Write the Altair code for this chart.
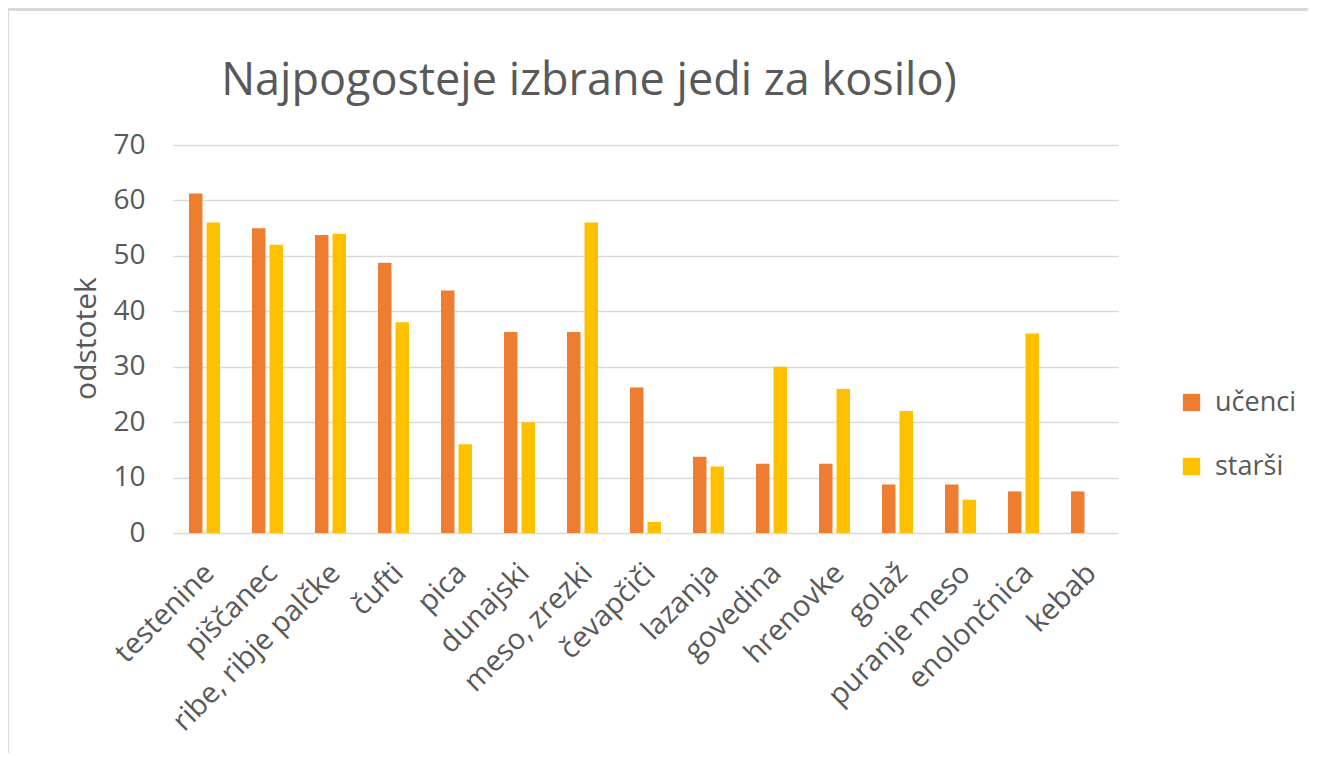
import altair as alt
import pandas as pd

title_text = "Najpogosteje izbrane jedi  za kosilo)"
categories = ["testenine", "piščanec", "ribe, ribje palčke", "čufti", "pica", "dunajski",
              "meso, zrezki", "čevapčiči", "lazanja", "govedina", "hrenovke", "golaž",
              "puranje meso", "enolončnica", "kebab"]
ucenci = [61.25, 55, 53.75, 48.75, 43.75, 36.25, 36.25, 26.25, 13.75, 12.5, 12.5, 8.75, 8.75, 7.5, 7.5]
starsi = [56, 52, 54, 38, 16, 20, 56, 2, 12, 30, 26, 22, 6, 36, 0]
series = ["učenci", "starši"]
colors = ["#ED7D31", "#FFC000"]
y_ticks = [0, 10, 20, 30, 40, 50, 60, 70]

rows = []
for c, u, s in zip(categories, ucenci, starsi):
    rows.append({"jed": c, "skupina": series[0], "odstotek": u})
    rows.append({"jed": c, "skupina": series[1], "odstotek": s})
df = pd.DataFrame(rows)

FONT = "Open Sans"
TXT = "#595959"

bars = alt.Chart(df).mark_bar().encode(
    x=alt.X("jed:N", sort=categories,
            scale=alt.Scale(paddingInner=0.508, paddingOuter=0.254),
            axis=alt.Axis(title=None, labelAngle=-45, labelAlign="right", labelBaseline="middle",
                          labelFontSize=29, labelFont=FONT, labelColor=TXT, labelPadding=35,
                          labelOffset=5, labelLimit=0, ticks=False, domain=False, grid=False,
                          labelOverlap=False)),
    xOffset=alt.XOffset("skupina:N", sort=series, scale=alt.Scale(paddingInner=0.23)),
    y=alt.Y("odstotek:Q", scale=alt.Scale(domain=[0, 70]),
            axis=alt.Axis(title="odstotek", values=y_ticks, ticks=False, domain=False,
                          labelFontSize=28, labelFont=FONT, labelColor=TXT, labelPadding=28,
                          gridColor="#D9D9D9", gridWidth=1.5,
                          titleFontSize=30, titleFont=FONT, titleColor=TXT, titleFontWeight="normal",
                          titleAngle=270, titleAlign="center", titleBaseline="alphabetic",
                          titleX=-78, titleY=193)),
    color=alt.Color("skupina:N", sort=series,
                    scale=alt.Scale(domain=series, range=colors),
                    legend=alt.Legend(title=None, orient="none", legendX=1005, legendY=244,
                                      symbolType="square", symbolSize=300, symbolStrokeWidth=0,
                                      labelFontSize=27, labelFont=FONT, labelColor=TXT,
                                      labelOffset=10, rowPadding=36, padding=0)),
)

one = pd.DataFrame({"k": [0]})
title = alt.Chart(one).mark_text(font=FONT, fontSize=45, color=TXT, align="center",
                                 baseline="alphabetic").encode(
    text=alt.value(title_text), x=alt.value(416), y=alt.value(-50)
)
top_line = alt.Chart(one).mark_rule(color="#D9D9D9", strokeWidth=3).encode(
    x=alt.value(-165), x2=alt.value(1135), y=alt.value(-135.5)
)
left_line = alt.Chart(one).mark_rule(color="#D9D9D9", strokeWidth=3).encode(
    x=alt.value(-165.5), y=alt.value(-137), y2=alt.value(608)
)

chart = alt.layer(top_line, left_line, bars, title).properties(
    width=945, height=388,
    autosize=alt.AutoSizeParams(type="none"),
    padding={"left": 165, "top": 137, "right": 190, "bottom": 220},
    background="white",
).configure_view(strokeWidth=0)

chart.save("out.html", embed_options={"renderer": "svg", "actions": False})
